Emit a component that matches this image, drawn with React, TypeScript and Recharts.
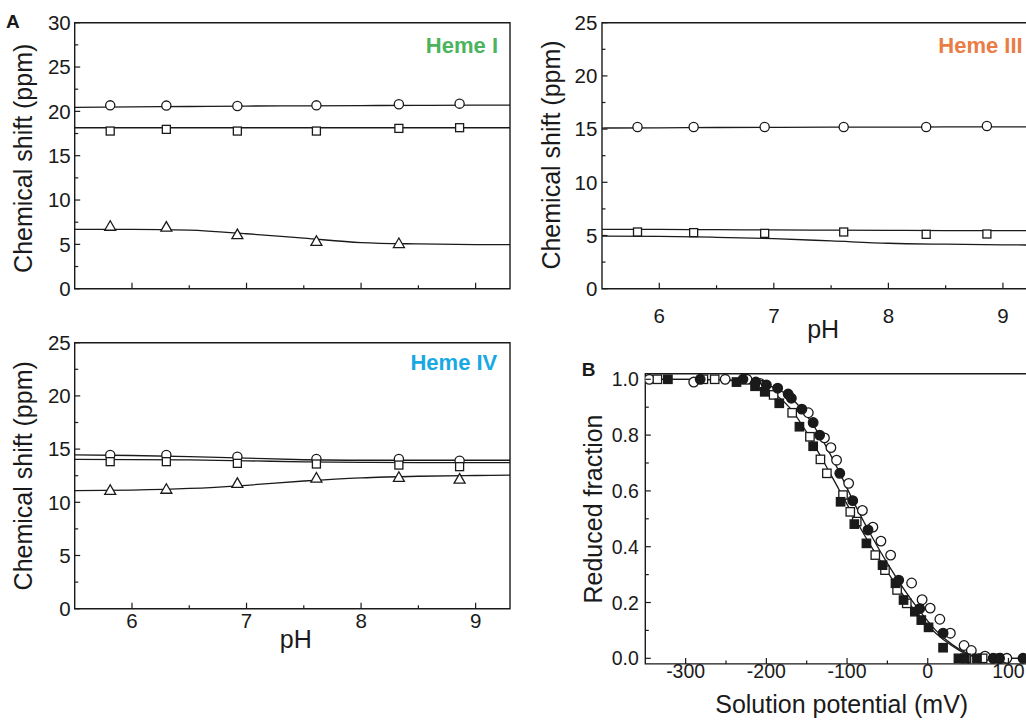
import React from 'react';
import { ComposedChart, XAxis, YAxis, Line, Scatter, ReferenceArea } from 'recharts';

const FONT = "'Liberation Sans', Arial, Helvetica, sans-serif";
const INK = '#1a1a1a';

// ---------- panel A data (pH titrations) ----------
const phPoints = [5.81, 6.3, 6.92, 7.61, 8.33, 8.86];
const phFit = [5.5, 6.0, 6.5, 7.0, 7.5, 8.0, 8.5, 9.0, 9.3];
const phTicks = [6, 6.5, 7, 7.5, 8, 8.5, 9];
const phMajor = [6, 7, 8, 9];

const hemeICircle = [20.68, 20.65, 20.6, 20.68, 20.8, 20.87];
const hemeISquare = [17.78, 17.97, 17.78, 17.78, 18.08, 18.16];
const hemeITriangle = [6.95, 6.85, 6.0, 5.25, 5.0];
const hemeICircleFit = [20.45, 20.5, 20.55, 20.6, 20.62, 20.65, 20.68, 20.7, 20.7];
const hemeISquareFit = [18.15, 18.15, 18.15, 18.15, 18.15, 18.15, 18.15, 18.15, 18.15];
const hemeITriangleFit = [6.7, 6.7, 6.6, 6.2, 5.7, 5.2, 5.05, 4.98, 4.96];

const hemeIIICircle = [15.2, 15.2, 15.2, 15.2, 15.2, 15.29];
const hemeIIISquare = [5.33, 5.27, 5.2, 5.33, 5.11, 5.14];
const hemeIIICircleFit = [15.1, 15.12, 15.15, 15.17, 15.18, 15.18, 15.2, 15.2, 15.2];
const hemeIIISquareFit = [5.58, 5.57, 5.55, 5.52, 5.5, 5.48, 5.46, 5.45, 5.45];
const hemeIIIThirdFit = [4.95, 4.92, 4.83, 4.7, 4.49, 4.27, 4.18, 4.12, 4.1];

const hemeIVCircle = [14.45, 14.45, 14.29, 14.07, 14.07, 13.9];
const hemeIVSquare = [13.82, 13.82, 13.66, 13.6, 13.5, 13.35];
const hemeIVTriangle = [11.05, 11.15, 11.7, 12.2, 12.27, 12.1];
const hemeIVCircleFit = [14.45, 14.4, 14.3, 14.15, 14.0, 13.95, 13.95, 13.95, 13.95];
const hemeIVSquareFit = [14.03, 14.02, 13.98, 13.9, 13.8, 13.75, 13.72, 13.72, 13.72];
const hemeIVTriangleFit = [11.1, 11.15, 11.3, 11.6, 12.0, 12.3, 12.45, 12.52, 12.55];

const shiftTicks30 = [0, 2.5, 5, 7.5, 10, 12.5, 15, 17.5, 20, 22.5, 25, 27.5, 30];
const shiftTicks25 = [0, 2.5, 5, 7.5, 10, 12.5, 15, 17.5, 20, 22.5, 25];
const shiftMajor = [0, 5, 10, 15, 20, 25, 30];

// ---------- panel B data (redox titration) ----------
const openCircleMv = [-345, -290, -251, -224, -208, -148, -128, -120, -113, -98, -81, -68, -58, -46, -20, -7, 3, 15, 28, 45, 54, 71, 90, 98];
const openCircleFrac = [1.0, 0.99, 1.0, 1.0, 0.985, 0.88, 0.79, 0.755, 0.71, 0.627, 0.53, 0.47, 0.42, 0.37, 0.27, 0.21, 0.18, 0.14, 0.09, 0.046, 0.028, 0.008, 0.0, 0.0];

const filledCircleMv = [-282, -229, -213, -200, -186, -173, -169, -156, -142, -134, -109, -93, -74, -36, -10, 19, 81, 89, 118];
const filledCircleFrac = [1.0, 1.0, 0.99, 0.98, 0.968, 0.947, 0.932, 0.893, 0.845, 0.8, 0.663, 0.565, 0.46, 0.28, 0.178, 0.09, 0.0, 0.0, 0.0];

const openSquareMv = [-335, -278, -264, -210, -191, -168, -146, -133, -125, -105, -96, -88, -65, -53, -38, -26, 48, 68];
const openSquareFrac = [1.0, 1.0, 1.0, 0.98, 0.944, 0.88, 0.794, 0.713, 0.663, 0.585, 0.525, 0.49, 0.37, 0.316, 0.245, 0.197, 0.0, 0.0];

const filledSquareMv = [-322, -237, -214, -202, -184, -159, -142, -108, -91, -76, -56, -40, -30, -16, -8, 1, 19, 38, 46, 61, 85];
const filledSquareFrac = [1.0, 0.99, 0.975, 0.955, 0.914, 0.83, 0.76, 0.561, 0.481, 0.412, 0.334, 0.269, 0.209, 0.167, 0.137, 0.111, 0.038, 0.0, 0.0, 0.0, 0.0];

const fitMv = [-350, -300, -260, -230, -210, -190, -170, -150, -130, -110, -90, -70, -50, -30, -10, 10, 30, 50, 70, 90, 150];
const fitSquares = [1.0, 1.0, 0.998, 0.99, 0.975, 0.948, 0.895, 0.81, 0.71, 0.605, 0.5, 0.4, 0.31, 0.225, 0.15, 0.09, 0.045, 0.012, 0.002, 0.0, 0.0];
const fitCircles = [1.0, 1.0, 0.999, 0.995, 0.985, 0.97, 0.935, 0.87, 0.78, 0.67, 0.55, 0.44, 0.34, 0.25, 0.17, 0.1, 0.05, 0.017, 0.004, 0.0, 0.0];

const mvTicks = [-300, -250, -200, -150, -100, -50, 0, 50, 100, 150];
const mvMajor = [-300, -200, -100, 0, 100];
const fracTicks = [0, 0.1, 0.2, 0.3, 0.4, 0.5, 0.6, 0.7, 0.8, 0.9, 1.0];
const fracMajor = [0, 0.2, 0.4, 0.6, 0.8, 1.0];

const zip = (xs: number[], ys: number[]) => ys.map((y, i) => ({ x: xs[i], y }));

type Kind = 'circle' | 'square' | 'triangle';
const marker = (kind: Kind, filled: boolean, size: number) => (p: any) => {
  const { cx, cy } = p;
  if (cx == null || cy == null || isNaN(cx) || isNaN(cy)) return <g />;
  const fill = filled ? INK : '#fff';
  const common = { fill, stroke: INK, strokeWidth: 1.3 };
  if (kind === 'circle') return <circle cx={cx} cy={cy} r={size / 2} {...common} />;
  if (kind === 'square')
    return <rect x={cx - size / 2} y={cy - size / 2} width={size} height={size} {...common} />;
  const h = (size * Math.sqrt(3)) / 2;
  const pts = `${cx},${cy - (2 * h) / 3} ${cx - size / 2},${cy + h / 3} ${cx + size / 2},${cy + h / 3}`;
  return <polygon points={pts} {...common} strokeLinejoin="miter" />;
};

const near = (a: number, list: number[]) => list.some((v) => Math.abs(v - a) < 1e-6);

const xTick = (major: number[], showLabels: boolean, dy: number, fs: number, fmt: (v: number) => string) => (p: any) => {
  const { x, y, payload } = p;
  const isMajor = near(payload.value, major);
  return (
    <g>
      <line x1={x} x2={x} y1={y} y2={y - (isMajor ? 6 : 3.5)} stroke={INK} strokeWidth={1.2} />
      {showLabels && isMajor && (
        <text x={x} y={y + dy} textAnchor="middle" fontSize={fs} fontFamily={FONT} fill={INK}>
          {fmt(payload.value)}
        </text>
      )}
    </g>
  );
};

const yTick = (major: number[], gap: number, fs: number, fmt: (v: number) => string) => (p: any) => {
  const { x, y, payload } = p;
  const isMajor = near(payload.value, major);
  return (
    <g>
      <line x1={x} x2={x + (isMajor ? 5.5 : 3.5)} y1={y} y2={y} stroke={INK} strokeWidth={1.2} />
      {isMajor && (
        <text x={x - gap} y={y + fs * 0.36} textAnchor="end" fontSize={fs} fontFamily={FONT} fill={INK}>
          {fmt(payload.value)}
        </text>
      )}
    </g>
  );
};

type PointSeries = { data: { x: number; y: number }[]; kind: Kind; filled: boolean; size: number };

type PanelProps = {
  left: number;
  top: number;
  width: number;
  height: number;
  plot: { x: number; y: number; w: number; h: number };
  xDomain: [number, number];
  yDomain: [number, number];
  xTicks: number[];
  xMajor: number[];
  yTicks: number[];
  yMajor: number[];
  showXLabels: boolean;
  xLabelDy: number;
  xFs: number;
  yFs: number;
  yGap: number;
  xFmt: (v: number) => string;
  yFmt: (v: number) => string;
  lines: { x: number; y: number }[][];
  points: PointSeries[];
};

function Panel(pp: PanelProps) {
  const { left, top, width, height, plot } = pp;
  const yAxisWidth = plot.x - left;
  const xAxisHeight = top + height - (plot.y + plot.h);
  const margin = { top: plot.y - top, right: left + width - (plot.x + plot.w), bottom: 0, left: 0 };
  return (
    <div style={{ position: 'absolute', left, top, width, height }}>
      <ComposedChart width={width} height={height} margin={margin}>
        <XAxis
          dataKey="x"
          type="number"
          domain={pp.xDomain}
          allowDataOverflow
          ticks={pp.xTicks}
          interval={0}
          height={xAxisHeight}
          tickSize={0}
          tickMargin={0}
          axisLine={false}
          tickLine={false}
          tick={xTick(pp.xMajor, pp.showXLabels, pp.xLabelDy, pp.xFs, pp.xFmt)}
        />
        <YAxis
          dataKey="y"
          type="number"
          domain={pp.yDomain}
          allowDataOverflow
          ticks={pp.yTicks}
          interval={0}
          width={yAxisWidth}
          tickSize={0}
          tickMargin={0}
          axisLine={false}
          tickLine={false}
          tick={yTick(pp.yMajor, pp.yGap, pp.yFs, pp.yFmt)}
        />
        <ReferenceArea
          x1={pp.xDomain[0]}
          x2={pp.xDomain[1]}
          y1={pp.yDomain[0]}
          y2={pp.yDomain[1]}
          fill="none"
          fillOpacity={0}
          stroke={INK}
          strokeWidth={1.4}
          ifOverflow="visible"
        />
        {pp.lines.map((d, i) => (
          <Line
            key={'l' + i}
            data={d}
            dataKey="y"
            type="monotone"
            stroke={INK}
            strokeWidth={1.3}
            dot={false}
            activeDot={false}
            isAnimationActive={false}
          />
        ))}
        {pp.points.map((s, i) => (
          <Scatter
            key={'s' + i}
            data={s.data}
            dataKey="y"
            shape={marker(s.kind, s.filled, s.size)}
            isAnimationActive={false}
          />
        ))}
      </ComposedChart>
    </div>
  );
}

const fmtInt = (v: number) => String(Math.round(v));
const fmt1 = (v: number) => v.toFixed(1);

export default function App() {
  const phPts = (ys: number[]) => zip(phPoints, ys);
  const phLine = (ys: number[]) => zip(phFit, ys);

  const hemeCommon = {
    xDomain: [5.5, 9.3] as [number, number],
    xTicks: phTicks,
    xMajor: phMajor,
    yMajor: shiftMajor,
    xFs: 20.5,
    yFs: 20.5,
    yGap: 4,
    xFmt: fmtInt,
    yFmt: fmtInt,
  };

  const textStyle = { fontFamily: FONT, fill: INK };

  return (
    <div
      style={{
        position: 'absolute',
        left: 0,
        top: 0,
        width: 1026,
        height: 723,
        overflow: 'hidden',
        background: '#fff',
      }}
    >
      {/* Heme I */}
      <Panel
        {...hemeCommon}
        left={0}
        top={0}
        width={520}
        height={300}
        plot={{ x: 74.7, y: 22.7, w: 435.3, h: 266 }}
        yDomain={[0, 30]}
        yTicks={shiftTicks30}
        showXLabels={false}
        xLabelDy={0}
        lines={[phLine(hemeICircleFit), phLine(hemeISquareFit), phLine(hemeITriangleFit)]}
        points={[
          { data: phPts(hemeICircle), kind: 'circle', filled: false, size: 9.2 },
          { data: phPts(hemeISquare), kind: 'square', filled: false, size: 8 },
          { data: phPts(hemeITriangle), kind: 'triangle', filled: false, size: 11 },
        ]}
      />
      {/* Heme III */}
      <Panel
        {...hemeCommon}
        left={530}
        top={0}
        width={530}
        height={340}
        plot={{ x: 602, y: 22.7, w: 435.3, h: 266 }}
        yDomain={[0, 25]}
        yTicks={shiftTicks25}
        yGap={4.7}
        showXLabels={true}
        xLabelDy={34.6}
        lines={[phLine(hemeIIICircleFit), phLine(hemeIIISquareFit), phLine(hemeIIIThirdFit)]}
        points={[
          { data: phPts(hemeIIICircle), kind: 'circle', filled: false, size: 9.2 },
          { data: phPts(hemeIIISquare), kind: 'square', filled: false, size: 8 },
        ]}
      />
      {/* Heme IV */}
      <Panel
        {...hemeCommon}
        left={0}
        top={320}
        width={520}
        height={340}
        plot={{ x: 74.7, y: 342.7, w: 435.3, h: 266 }}
        yDomain={[0, 25]}
        yTicks={shiftTicks25}
        showXLabels={true}
        xLabelDy={19.6}
        lines={[phLine(hemeIVCircleFit), phLine(hemeIVSquareFit), phLine(hemeIVTriangleFit)]}
        points={[
          { data: phPts(hemeIVCircle), kind: 'circle', filled: false, size: 9.2 },
          { data: phPts(hemeIVSquare), kind: 'square', filled: false, size: 8 },
          { data: phPts(hemeIVTriangle), kind: 'triangle', filled: false, size: 11 },
        ]}
      />
      {/* Panel B */}
      <Panel
        left={590}
        top={350}
        width={480}
        height={340}
        plot={{ x: 645.3, y: 373.7, w: 403.5, h: 290.2 }}
        xDomain={[-350, 150]}
        yDomain={[-0.02, 1.02]}
        xTicks={mvTicks}
        xMajor={mvMajor}
        yTicks={fracTicks}
        yMajor={fracMajor}
        showXLabels={true}
        xLabelDy={14.5}
        xFs={19.5}
        yFs={19.5}
        yGap={6.5}
        xFmt={fmtInt}
        yFmt={fmt1}
        lines={[zip(fitMv, fitSquares), zip(fitMv, fitCircles)]}
        points={[
          { data: zip(openCircleMv, openCircleFrac), kind: 'circle', filled: false, size: 9.6 },
          { data: zip(openSquareMv, openSquareFrac), kind: 'square', filled: false, size: 8.4 },
          { data: zip(filledSquareMv, filledSquareFrac), kind: 'square', filled: true, size: 8.4 },
          { data: zip(filledCircleMv, filledCircleFrac), kind: 'circle', filled: true, size: 9.6 },
        ]}
      />

      {/* Text overlay */}
      <svg
        width={1026}
        height={723}
        style={{ position: 'absolute', left: 0, top: 0, pointerEvents: 'none' }}
      >
        <text x={6} y={28.3} fontSize={19} fontWeight="bold" {...textStyle}>A</text>
        <text x={581.7} y={376} fontSize={19} fontWeight="bold" {...textStyle}>B</text>

        <text x={498} y={52.5} fontSize={22} fontWeight="bold" textAnchor="end" fontFamily={FONT} fill="#4cb35e">Heme I</text>
        <text x={938.3} y={52.5} fontSize={22} fontWeight="bold" textAnchor="start" fontFamily={FONT} fill="#ea7d45">Heme III</text>
        <text x={497.3} y={369.5} fontSize={22} fontWeight="bold" textAnchor="end" fontFamily={FONT} fill="#18a8e4">Heme IV</text>

        <text transform="translate(32,158.3) rotate(-90)" fontSize={25} textAnchor="middle" {...textStyle}>Chemical shift (ppm)</text>
        <text transform="translate(560,155) rotate(-90)" fontSize={25} textAnchor="middle" {...textStyle}>Chemical shift (ppm)</text>
        <text transform="translate(32,475.8) rotate(-90)" fontSize={25} textAnchor="middle" {...textStyle}>Chemical shift (ppm)</text>
        <text transform="translate(601.5,509) rotate(-90)" fontSize={25} textAnchor="middle" {...textStyle}>Reduced fraction</text>

        <text x={823.2} y={338} fontSize={25} textAnchor="middle" {...textStyle}>pH</text>
        <text x={295.8} y={648} fontSize={25} textAnchor="middle" {...textStyle}>pH</text>
        <text x={841.7} y={713} fontSize={25} textAnchor="middle" {...textStyle}>Solution potential (mV)</text>
      </svg>
    </div>
  );
}
